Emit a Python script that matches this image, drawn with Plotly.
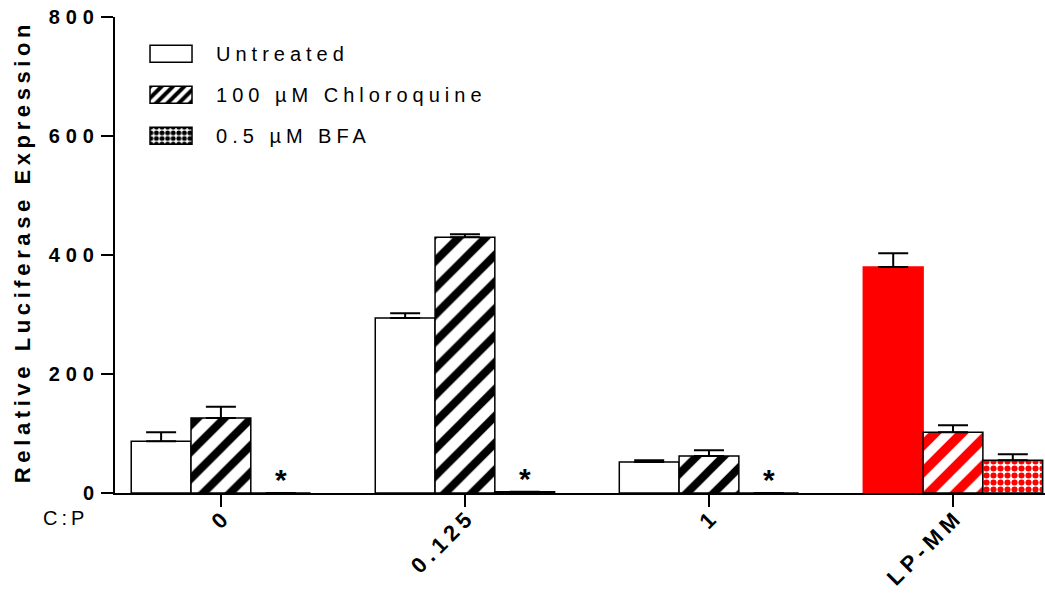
import plotly.graph_objects as go

categories = ["0", "0.125", "1", "LP-MM"]
series_names = ["Untreated", "100 µM Chloroquine", "0.5 µM BFA"]
untreated = [87, 294, 52, 380]
untreated_err = [15, 8, 3, 23]
chloroquine = [126, 430, 62, 102]
chloroquine_err = [19, 5, 10, 12]
bfa = [0, 2, 0, 55]
bfa_err = [0, 0, 0, 10]
significant = [True, True, True, False]

xs = list(range(len(categories)))
W = 0.245
offsets = [-1.5 * W, -0.5 * W, 0.5 * W]
RED = "#ff0000"
FONT = "Liberation Sans, Arial, sans-serif"


def per(normal, lp):
    return [normal] * 3 + [lp]


err_style = dict(type="data", symmetric=False, color="black", thickness=2, width=15)

fig = go.Figure()
fig.add_trace(go.Bar(
    x=xs, y=untreated, name=series_names[0], width=W, offset=offsets[0], legendgroup="a",
    marker=dict(color=per("white", RED), line=dict(color=per("black", RED), width=1.5)),
    error_y=dict(array=untreated_err, arrayminus=[0] * 4, **err_style),
))
fig.add_trace(go.Bar(
    x=xs, y=chloroquine, name=series_names[1], width=W, offset=offsets[1], legendgroup="b",
    marker=dict(color="white", line=dict(color="black", width=1.5),
                pattern=dict(shape="/", fgcolor=per("black", RED), bgcolor="white",
                             fgopacity=1, size=19, solidity=per(0.42, 0.5), fillmode="overlay")),
    error_y=dict(array=chloroquine_err, arrayminus=[0] * 4, **err_style),
))
fig.add_trace(go.Bar(
    x=xs, y=bfa, name=series_names[2], width=W, offset=offsets[2], legendgroup="c",
    marker=dict(color="white", line=dict(color="black", width=1.5),
                pattern=dict(shape=".", fgcolor=per("black", RED), bgcolor="white",
                             fgopacity=1, size=7, solidity=0.6, fillmode="overlay")),
    error_y=dict(array=bfa_err, arrayminus=[0] * 4, **err_style),
))

annotations = []
for i, sig in enumerate(significant):
    if sig:
        annotations.append(dict(x=xs[i] + offsets[2] + W / 2, y=bfa[i], xref="x", yref="y",
                                text="<b>*</b>", showarrow=False, yanchor="bottom",
                                yshift=-5, font=dict(size=30, color="black")))
annotations.append(dict(xref="paper", yref="paper", x=-0.073, y=-0.0525, text="C:P",
                        showarrow=False, xanchor="left", yanchor="middle",
                        font=dict(size=20, color="black")))
annotations.append(dict(xref="paper", yref="paper", x=-0.1, y=0.506, xanchor="center",
                        yanchor="middle", text="<b>Relative Luciferase Expression</b>",
                        textangle=-90, showarrow=False, font=dict(size=22, color="black")))

fig.update_layout(
    width=1045, height=602,
    margin=dict(l=115, r=0, t=17, b=109),
    paper_bgcolor="white", plot_bgcolor="white",
    font=dict(family=FONT, color="black"),
    showlegend=True,
    legend=dict(x=0.0226, y=0.964, xanchor="left", yanchor="top",
                bgcolor="rgba(0,0,0,0)", font=dict(size=20),
                itemwidth=70, traceorder="grouped", tracegroupgap=12),
    annotations=annotations,
    xaxis=dict(range=[-0.434, 3.377], tickmode="array", tickvals=xs, ticktext=categories,
               tickangle=-45, ticks="outside", ticklen=12, tickwidth=2, tickcolor="black",
               ticklabelstandoff=-5,
               showline=True, linecolor="black", linewidth=2, showgrid=False, zeroline=False,
               tickfont=dict(size=22, family=FONT, weight="bold")),
    yaxis=dict(range=[0, 800], tickvals=[0, 200, 400, 600, 800], ticks="outside",
               ticklen=12, tickwidth=2, tickcolor="black", showline=True, linecolor="black",
               linewidth=2, showgrid=False, zeroline=False,
               tickfont=dict(size=20, family=FONT, weight="bold")),
)

post = """
var gd = document.getElementById('{plot_id}');
function restyleText() {
  gd.querySelectorAll('.legendtext').forEach(function(t){ t.style.letterSpacing = '5px'; });
  gd.querySelectorAll('.xtick text').forEach(function(t){
    t.style.letterSpacing = '5px';
    if (t.getAttribute('data-fixed')) return;
    t.setAttribute('transform', 'translate(4,-7) ' + (t.getAttribute('transform') || ''));
    t.setAttribute('data-fixed', '1');
  });
  var host = gd.getBoundingClientRect();
  gd.querySelectorAll('.ytick text').forEach(function(t){
    if (t.getAttribute('data-fixed')) return;
    t.style.letterSpacing = '6px';
    var x0 = parseFloat(t.getAttribute('x')) || 0;
    var r0 = t.getBoundingClientRect().right - host.left;
    t.setAttribute('x', x0 + 10);
    var r1 = t.getBoundingClientRect().right - host.left;
    var k = (r1 - r0) / 10;
    if (!isFinite(k) || Math.abs(k) < 0.1) { k = 1; }
    t.setAttribute('x', x0 + (100 - r0) / k);
    t.setAttribute('data-fixed', '1');
  });
  gd.querySelectorAll('.annotation-text').forEach(function(t){
    var s = t.textContent;
    if (s.indexOf('Relative') === 0) { t.style.letterSpacing = '4.6px'; }
    else if (s === 'C:P') { t.style.letterSpacing = '4px'; }
  });
  gd.querySelectorAll('.legend [clip-path]').forEach(function(e){ e.removeAttribute('clip-path'); });
  gd.querySelectorAll('.legend .legendpoints path').forEach(function(p){
    p.setAttribute('d', 'M16,8.5H-26V-8.5H16Z');
  });
}
restyleText();
setTimeout(restyleText, 50);
"""

fig.write_html("out.html", post_script=post)
